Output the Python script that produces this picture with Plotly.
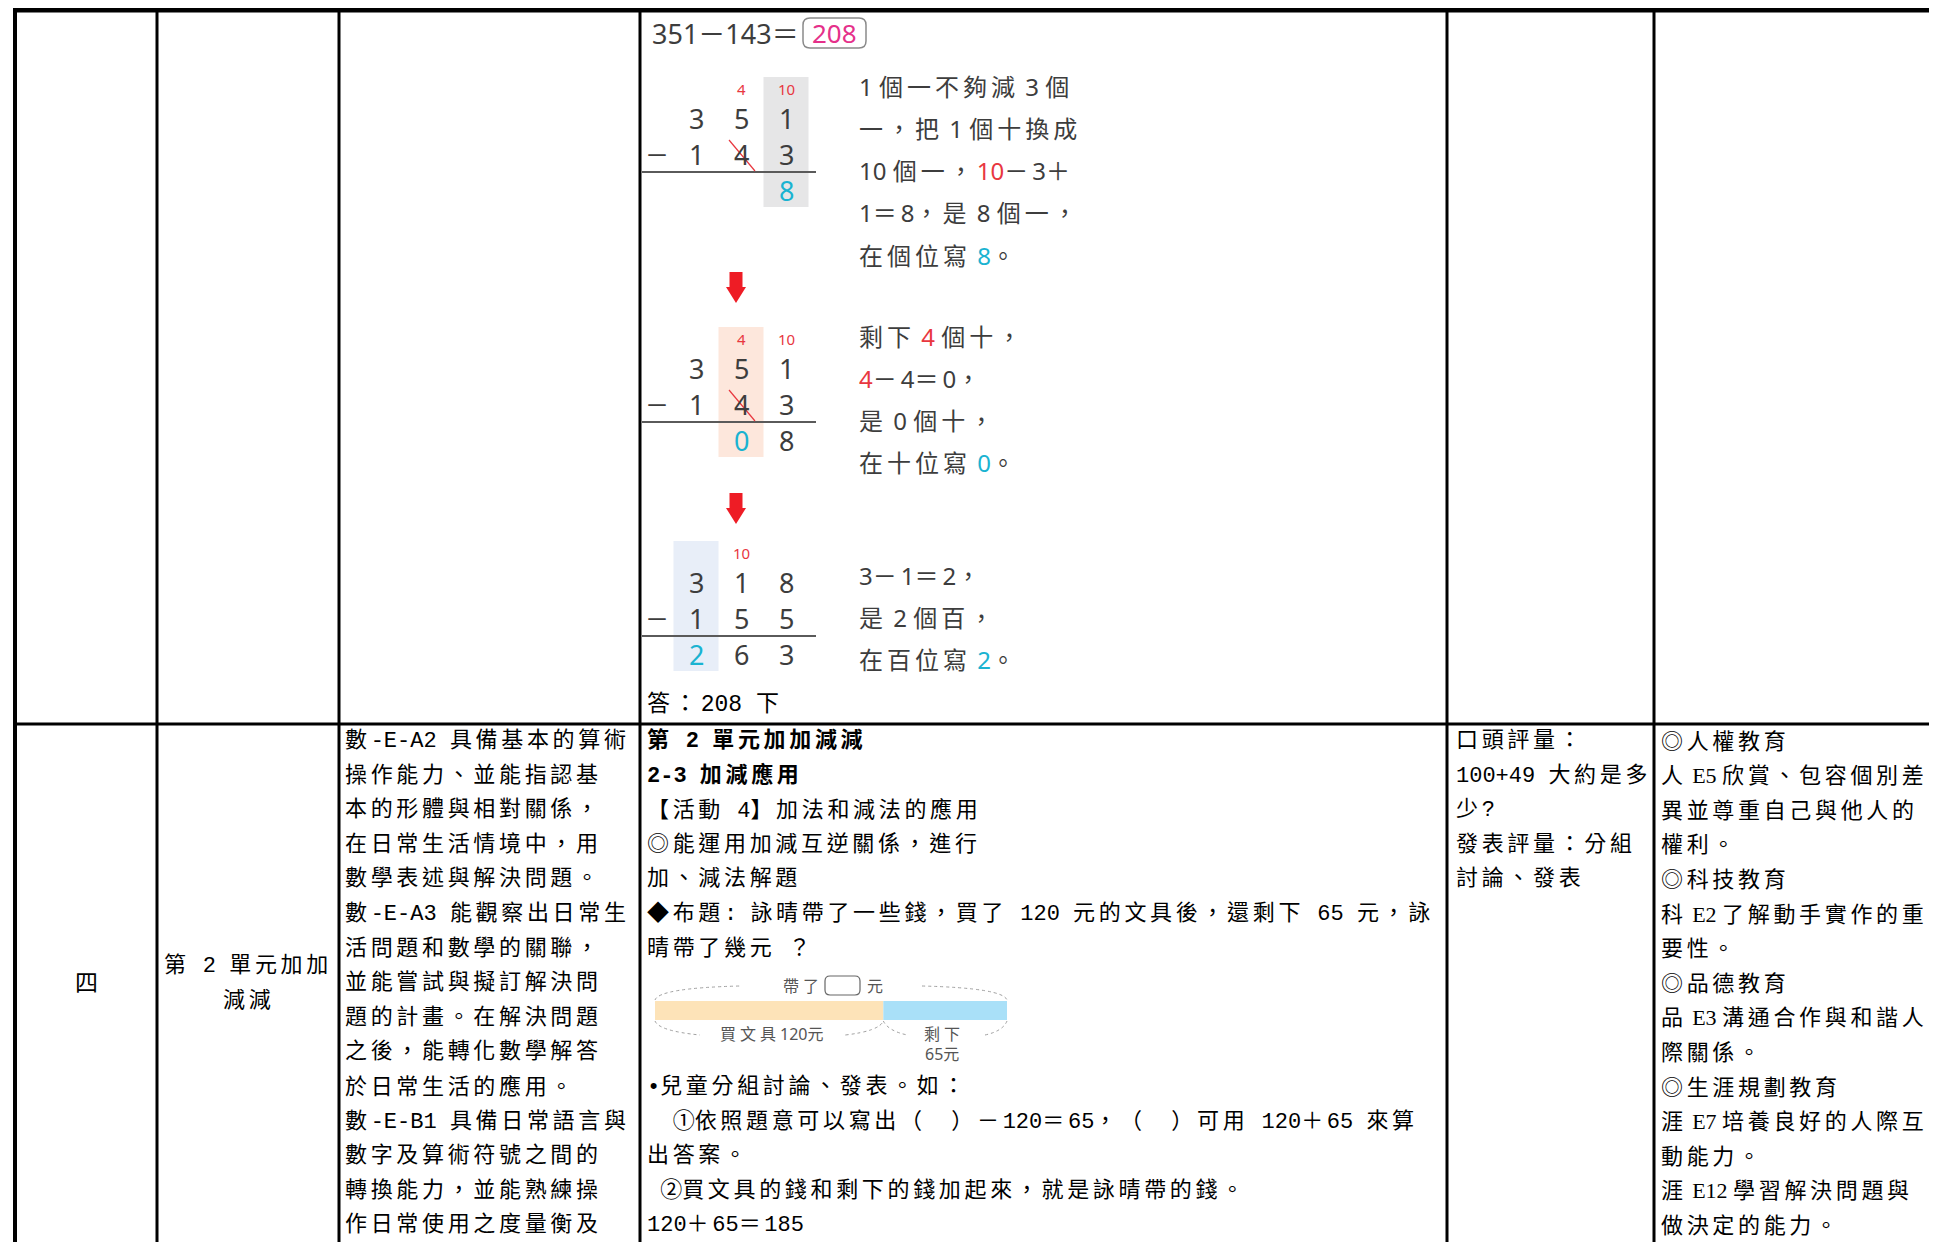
import plotly.graph_objects as go

W, H = 1937, 1242

# ---------------- data ----------------
# upper row : textbook worked example 351 - 143 = 208
equation_left = "351－143＝"
equation_answer = "208"
steps_top = [["3", "5", "1"], ["3", "5", "1"], ["3", "1", "8"]]
steps_bottom = [["1", "4", "3"], ["1", "4", "3"], ["1", "5", "5"]]
steps_result = [["", "", "8"], ["", "0", "8"], ["2", "6", "3"]]
steps_borrow = [["", "4", "10"], ["", "4", "10"], ["", "10", ""]]
steps_focus = [2, 1, 0]          # highlighted place column per step
steps_strike = [1, 1, None]      # crossed-out digit column per step

RED, CYAN, PINK = "#e8373f", "#1ab3d1", "#e5308a"


def red(s):
    return f"<span style='color:{RED}'>{s}</span>"


def cyan(s):
    return f"<span style='color:{CYAN}'>{s}</span>"


steps_explain = [
    ["1 個一不夠減 3 個", "一，把 1 個十換成", "10 個一，" + red("10") + "－3＋",
     "1＝8，是 8 個一，", "在個位寫 " + cyan("8") + "。"],
    ["剩下 " + red("4") + " 個十，", red("4") + "－4＝0，", "是 0 個十，", "在十位寫 " + cyan("0") + "。"],
    ["3－1＝2，", "是 2 個百，", "在百位寫 " + cyan("2") + "。"],
]
answer_text = "答：208 下"

# bar model of the word problem
bar_values = [120, 65]
bar_labels = ["買文具 120元", "剩下"]
bar_label2 = "65元"
bar_top_label = ["帶了", "元"]

# lower row : table cells
week_label = "四"
unit_lines = ["第 2 單元加加", "減減"]
competency_lines = [
    "數-E-A2 具備基本的算術",
    "操作能力、並能指認基",
    "本的形體與相對關係，",
    "在日常生活情境中，用",
    "數學表述與解決問題。",
    "數-E-A3 能觀察出日常生",
    "活問題和數學的關聯，",
    "並能嘗試與擬訂解決問",
    "題的計畫。在解決問題",
    "之後，能轉化數學解答",
    "於日常生活的應用。",
    "數-E-B1 具備日常語言與",
    "數字及算術符號之間的",
    "轉換能力，並能熟練操",
    "作日常使用之度量衡及",
]
activity_lines = {
    0: "<b>第 2 單元加加減減</b>",
    1: "<b>2-3 加減應用</b>",
    2: "【活動 4】加法和減法的應用",
    3: "◎能運用加減互逆關係，進行",
    4: "加、減法解題",
    5: "◆布題: 詠晴帶了一些錢，買了 120 元的文具後，還剩下 65 元，詠",
    6: "晴帶了幾元 ？",
    10: "•兒童分組討論、發表。如：",
    11: "\u3000①依照題意可以寫出（　）－120＝65，（　）可用 120＋65 來算",
    12: "出答案。",
    13: "\u00a0②買文具的錢和剩下的錢加起來，就是詠晴帶的錢。",
    14: "120＋65＝185",
}
assessment_lines = ["口頭評量：", "100+49 大約是多", "少?", "發表評量：分組", "討論、發表"]
issue_lines = [
    "◎人權教育",
    "人 E5 欣賞、包容個別差",
    "異並尊重自己與他人的",
    "權利。",
    "◎科技教育",
    "科 E2 了解動手實作的重",
    "要性。",
    "◎品德教育",
    "品 E3 溝通合作與和諧人",
    "際關係。",
    "◎生涯規劃教育",
    "涯 E7 培養良好的人際互",
    "動能力。",
    "涯 E12 學習解決問題與",
    "做決定的能力。",
]

# ---------------- layout constants ----------------
PAGE_OFFSET = 8   # default body margin of the html page
col_edges = [15, 157, 339, 640, 1447, 1654]
row_top, row_split = 10, 724
line_y0, line_step = 741, 34.6
TABLE_FONT = "Liberation Mono, Noto Sans CJK TC, monospace"
TABLE_FONT_NARROW = "Liberation Serif, Noto Sans CJK TC, serif"
BOOK_FONT = "Noto Sans, Noto Sans CJK TC, sans-serif"
BOOK_GRAY = "#3d3d3d"
DIAG_GRAY = "#555555"

shapes, annotations = [], []


def txt(x, y, text, size, color="black", family=TABLE_FONT, xanchor="left", yanchor="middle"):
    annotations.append(dict(x=x, y=y, xref="x", yref="y", text=text, showarrow=False,
                            xanchor=xanchor, yanchor=yanchor, align="left",
                            font=dict(size=size, color=color, family=family)))


def line(x0, y0, x1, y1, color="black", width=3, dash="solid"):
    shapes.append(dict(type="line", x0=x0, y0=y0, x1=x1, y1=y1, xref="x", yref="y",
                       line=dict(color=color, width=width, dash=dash)))


def rect(x0, y0, x1, y1, fill, lc=None, lw=0):
    shapes.append(dict(type="rect", x0=x0, y0=y0, x1=x1, y1=y1, xref="x", yref="y",
                       fillcolor=fill, line=dict(color=lc or fill, width=lw), layer="below"))


def path(d, color="black", width=1, fill=None, dash="solid"):
    s = dict(type="path", path=d, xref="x", yref="y", line=dict(color=color, width=width, dash=dash))
    if fill:
        s["fillcolor"] = fill
    shapes.append(s)


def rounded(x0, y0, x1, y1, r):
    return (f"M{x0+r},{y0} L{x1-r},{y0} Q{x1},{y0} {x1},{y0+r} L{x1},{y1-r} Q{x1},{y1} {x1-r},{y1} "
            f"L{x0+r},{y1} Q{x0},{y1} {x0},{y1-r} L{x0},{y0+r} Q{x0},{y0} {x0+r},{y0} Z")


def spaced(s):
    out = []
    in_tag = False
    for ch in s:
        out.append(ch)
        if ch == "<":
            in_tag = True
        elif ch == ">":
            in_tag = False
        elif not in_tag and (ord(ch) >= 0x2E80 or ch in "◎◆"):
            out.append("\u2006")
    return "".join(out)


# ---------------- table grid ----------------
line(13, row_top, W + PAGE_OFFSET, row_top, width=5)
line(col_edges[0], row_top, col_edges[0], H + PAGE_OFFSET, width=4)
for xe in col_edges[1:]:
    line(xe, row_top, xe, H + PAGE_OFFSET, width=3)
line(col_edges[0], row_split, W + PAGE_OFFSET, row_split, width=3)

# ---------------- upper row: worked example ----------------
txt(650, 33, equation_left, 27, BOOK_GRAY, BOOK_FONT)
path(rounded(803, 18, 866, 48, 7), color="#8a8a8a", width=1.5)
txt(834.5, 33, equation_answer, 26, PINK, BOOK_FONT, xanchor="center")

place_x = [696, 741, 786]
minus_x = 657
step_base = [118, 368, 582]
focus_colors = ["#e6e6e7", "#fde7dc", "#e8eef8"]
explain_start = [86, 336, 575]
explain_step = 42.3
for i in range(3):
    b = step_base[i]
    fx = place_x[steps_focus[i]]
    rect(fx - 22.5, b - 41, fx + 22.5, b + 89, focus_colors[i])
    for j in range(3):
        if steps_borrow[i][j]:
            txt(place_x[j], b - 29, steps_borrow[i][j], 15, RED, BOOK_FONT, xanchor="center")
        txt(place_x[j], b, steps_top[i][j], 27, BOOK_GRAY, BOOK_FONT, xanchor="center")
        txt(place_x[j], b + 36, steps_bottom[i][j], 27, BOOK_GRAY, BOOK_FONT, xanchor="center")
        if steps_result[i][j]:
            col = CYAN if j == steps_focus[i] else BOOK_GRAY
            txt(place_x[j], b + 72, steps_result[i][j], 27, col, BOOK_FONT, xanchor="center")
    txt(minus_x, b + 36, "－", 24, BOOK_GRAY, BOOK_FONT, xanchor="center")
    line(642, b + 54, 816, b + 54, color="#5a5a5a", width=2)
    if steps_strike[i] is not None:
        sx = place_x[steps_strike[i]]
        line(sx - 12, b + 22, sx + 14, b + 53, color=RED, width=1.2)
    for k, t in enumerate(steps_explain[i]):
        txt(857, explain_start[i] + k * explain_step, spaced(t), 24, BOOK_GRAY, BOOK_FONT)

# red arrows between steps
for ay in [272, 493]:
    ax = 736
    path(f"M{ax-6.5},{ay} L{ax+6.5},{ay} L{ax+6.5},{ay+15} L{ax+10},{ay+15} L{ax},{ay+31} "
         f"L{ax-10},{ay+15} L{ax-6.5},{ay+15} Z", color="#ee1c25", width=0, fill="#ee1c25")

txt(645, 704, spaced(answer_text), 23, "black", TABLE_FONT)

# ---------------- lower row ----------------
def ly(i):
    return line_y0 + i * line_step


txt((col_edges[0] + col_edges[1]) / 2, ly(7.05), week_label, 23, xanchor="center")
for k, t in enumerate(unit_lines):
    txt((col_edges[1] + col_edges[2]) / 2, ly(6.5 + k), spaced(t), 22, xanchor="center")
for k, t in enumerate(competency_lines):
    txt(343, ly(k), spaced(t), 22)
for k, t in activity_lines.items():
    txt(645, ly(k), spaced(t), 22)
for k, t in enumerate(assessment_lines):
    txt(1454, ly(k), spaced(t), 22)
for k, t in enumerate(issue_lines):
    txt(1659, ly(k), spaced(t), 22, family=TABLE_FONT_NARROW)

# bar model diagram
bx0, bx1 = 655, 1007
scale = (bx1 - bx0) / sum(bar_values)
by0, by1 = 1001, 1020
xs = [bx0]
for v in bar_values:
    xs.append(xs[-1] + v * scale)
rect(xs[0], by0, xs[1], by1, "#fde3b8")
rect(xs[1], by0, xs[2], by1, "#a9e0f8")
path(f"M{bx0},{by0-1} Q{bx0+4},{by0-13} {bx0+85},{by0-15}", color="#a0a0a0", dash="dot")
path(f"M{bx1-85},{by0-15} Q{bx1-4},{by0-13} {bx1},{by0-1}", color="#a0a0a0", dash="dot")
path(f"M{bx0},{by1+1} Q{bx0+4},{by1+11} {bx0+45},{by1+15}", color="#a0a0a0", dash="dot")
path(f"M{xs[1]-38},{by1+15} Q{xs[1]-4},{by1+11} {xs[1]},{by1+1}", color="#a0a0a0", dash="dot")
path(f"M{xs[1]},{by1+1} Q{xs[1]+5},{by1+11} {xs[1]+24},{by1+15}", color="#a0a0a0", dash="dot")
path(f"M{bx1-22},{by1+15} Q{bx1-4},{by1+11} {bx1},{by1+1}", color="#a0a0a0", dash="dot")
txt(821, by0 - 15, "\u2005".join(bar_top_label[0]), 16, DIAG_GRAY, BOOK_FONT, xanchor="right")
path(rounded(825, 976, 860, 995, 5), color="#666666", width=1.2)
txt(865, by0 - 15, bar_top_label[1], 16, DIAG_GRAY, BOOK_FONT)
lab0 = "\u2005".join(bar_labels[0].split(" ")[0]) + "\u2005" + bar_labels[0].split(" ")[1]
txt((xs[0] + xs[1]) / 2 + 2, by1 + 14, lab0, 16, DIAG_GRAY, BOOK_FONT, xanchor="center")
txt((xs[1] + xs[2]) / 2 - 3, by1 + 14, "\u2005".join(bar_labels[1]), 16, DIAG_GRAY, BOOK_FONT, xanchor="center")
txt((xs[1] + xs[2]) / 2 - 3, by1 + 34, bar_label2, 16, DIAG_GRAY, BOOK_FONT, xanchor="center")

# ---------------- figure ----------------
fig = go.Figure()
fig.add_trace(go.Scatter(x=[PAGE_OFFSET, W], y=[PAGE_OFFSET, H], mode="markers", marker=dict(opacity=0),
                         hoverinfo="skip", showlegend=False))
fig.update_layout(
    width=W, height=H, margin=dict(l=0, r=0, t=0, b=0),
    paper_bgcolor="white", plot_bgcolor="white",
    xaxis=dict(range=[PAGE_OFFSET, W + PAGE_OFFSET], visible=False, fixedrange=True),
    yaxis=dict(range=[H + PAGE_OFFSET, PAGE_OFFSET], visible=False, fixedrange=True),
    shapes=shapes, annotations=annotations, showlegend=False,
)
fig.write_html("out.html")
